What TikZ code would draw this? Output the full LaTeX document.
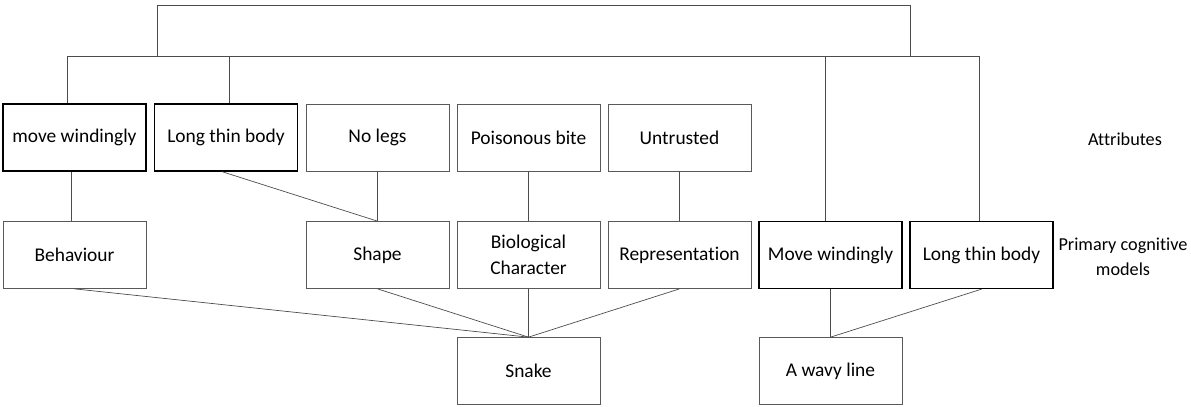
\documentclass[tikz,border=0pt]{standalone}
\usepackage{fontspec}
\setmainfont{Carlito}[Ligatures=NoCommon]
\begin{document}
\begin{tikzpicture}[x=1bp,y=-1bp,
  every node/.style={font=\fontsize{19.5}{26}\selectfont, text=black},
  box/.style={draw=black!65, line width=0.7pt, minimum width=143bp, minimum height=67bp, inner sep=0pt, align=center},
  thickbox/.style={box, draw=black, line width=1.3pt},
  conn/.style={draw=black!70, line width=0.7pt},
  lbl/.style={align=center, inner sep=0pt, font=\fontsize{18.3}{25}\selectfont}]
\useasboundingbox (0,0) rectangle (1191,406);
% row 1: attributes
\node[thickbox] (a1) at (74.5,137.5) {move windingly};
\node[thickbox] (a2) at (226,137.5) {Long thin body};
\node[box] (a3) at (377.5,137.5) {No legs};
\node[box] (a4) at (528.5,137.5) {Poisonous bite};
\node[box] (a5) at (679.5,137.5) {Untrusted};
% row 2: primary cognitive models
\node[box] (b1) at (74.5,255) {Behaviour};
\node[box] (b3) at (377.5,255) {Shape};
\node[box] (b4) at (528.5,255) {Biological\\Character};
\node[box] (b5) at (679.5,255) {Representation};
\node[thickbox] (b6) at (830.5,255) {Move windingly};
\node[thickbox] (b7) at (981.5,255) {Long thin body};
% row 3
\node[box] (c1) at (528.5,371) {Snake};
\node[box] (c2) at (830.5,371) {A wavy line};
% side labels
\node[lbl] (l1) at (1125,139) {Attributes};
\node[lbl] (l2) at (1123,257) {Primary cognitive\\models};
% bracket lines at top
\coordinate (t1) at (157,56);
\coordinate (t2) at (910,56);
\coordinate (h1) at (67,56);
\coordinate (h2) at (229,56);
\coordinate (h3) at (825,56);
\coordinate (h4) at (979,56);
\draw[conn] (t1) -- (157,5) -- (910,5) -- (t2);
\draw[conn] (h1) -- (h4);
\draw[conn] (h1) -- (h1 |- a1.north);
\draw[conn] (h2) -- (h2 |- a2.north);
\draw[conn] (h3) -- (h3 |- b6.north);
\draw[conn] (h4) -- (h4 |- b7.north);
% attribute -> model
\draw[conn] ([xshift=-3.5bp]a1.south) -- ([xshift=-3.5bp]b1.north);
\draw[conn] ([xshift=-4bp]a2.south) -- (b3.north);
\draw[conn] (a3.south) -- (b3.north);
\draw[conn] (a4.south) -- (b4.north);
\draw[conn] (a5.south) -- (b5.north);
% model -> concept
\draw[conn] (b1.south) -- (c1.north);
\draw[conn] (b3.south) -- (c1.north);
\draw[conn] (b4.south) -- (c1.north);
\draw[conn] (b5.south) -- (c1.north);
\draw[conn] (b6.south) -- (c2.north);
\draw[conn] (b7.south) -- (c2.north);
\end{tikzpicture}
\end{document}
